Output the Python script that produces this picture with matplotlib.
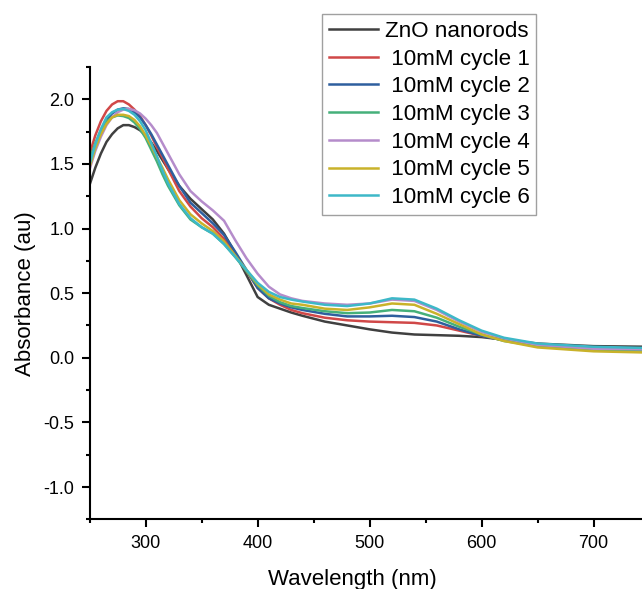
import matplotlib
matplotlib.use("Agg")
import matplotlib.pyplot as plt
from matplotlib.ticker import MultipleLocator

plt.rcParams['font.family'] = ['Liberation Sans', 'DejaVu Sans']
plt.rcParams['axes.unicode_minus'] = False

# wavelength grid (nm): fine near the band edge, coarser in the visible
wavelength = [250, 255, 260, 265, 270, 275, 280, 285, 290, 295, 300, 305, 310, 315, 320,
              330, 340, 350, 360, 370, 380, 390, 400, 410, 420, 430, 440,
              460, 480, 500, 520, 540, 560, 580, 600, 620, 650, 700, 750]

zno = [1.34, 1.47, 1.58, 1.67, 1.73, 1.775, 1.80, 1.80, 1.785, 1.76, 1.72, 1.665, 1.60, 1.53, 1.46,
       1.33, 1.23, 1.15, 1.07, 0.96, 0.81, 0.64, 0.47, 0.41, 0.38, 0.35, 0.325,
       0.28, 0.25, 0.22, 0.195, 0.18, 0.175, 0.17, 0.16, 0.14, 0.11, 0.09, 0.085]
cycle1 = [1.58, 1.72, 1.83, 1.91, 1.96, 1.985, 1.985, 1.96, 1.92, 1.87, 1.80, 1.72, 1.63, 1.55, 1.46,
          1.29, 1.17, 1.08, 1.01, 0.92, 0.80, 0.67, 0.54, 0.46, 0.41, 0.37, 0.345,
          0.31, 0.29, 0.28, 0.275, 0.27, 0.25, 0.21, 0.17, 0.14, 0.10, 0.07, 0.065]
cycle2 = [1.50, 1.64, 1.75, 1.84, 1.89, 1.92, 1.93, 1.925, 1.90, 1.86, 1.80, 1.73, 1.65, 1.57, 1.49,
          1.33, 1.20, 1.12, 1.04, 0.95, 0.82, 0.68, 0.54, 0.46, 0.42, 0.39, 0.37,
          0.34, 0.32, 0.32, 0.325, 0.315, 0.28, 0.22, 0.17, 0.135, 0.10, 0.07, 0.07]
cycle3 = [1.53, 1.66, 1.76, 1.83, 1.86, 1.875, 1.87, 1.855, 1.82, 1.77, 1.70, 1.61, 1.52, 1.42, 1.33,
          1.18, 1.07, 1.01, 0.96, 0.88, 0.78, 0.67, 0.56, 0.48, 0.43, 0.40, 0.385,
          0.36, 0.345, 0.35, 0.37, 0.36, 0.31, 0.24, 0.18, 0.13, 0.09, 0.06, 0.055]
cycle4 = [1.46, 1.60, 1.71, 1.80, 1.86, 1.90, 1.92, 1.925, 1.915, 1.89, 1.85, 1.80, 1.74, 1.66, 1.58,
          1.42, 1.29, 1.21, 1.14, 1.06, 0.91, 0.77, 0.65, 0.55, 0.49, 0.46, 0.44,
          0.42, 0.41, 0.42, 0.45, 0.44, 0.37, 0.28, 0.20, 0.15, 0.10, 0.07, 0.065]
cycle5 = [1.48, 1.62, 1.73, 1.81, 1.86, 1.88, 1.88, 1.87, 1.84, 1.79, 1.72, 1.64, 1.55, 1.47, 1.38,
          1.22, 1.11, 1.04, 0.98, 0.90, 0.79, 0.68, 0.57, 0.49, 0.45, 0.42, 0.41,
          0.38, 0.37, 0.39, 0.42, 0.41, 0.34, 0.26, 0.18, 0.13, 0.08, 0.05, 0.04]
cycle6 = [1.50, 1.65, 1.77, 1.86, 1.90, 1.92, 1.925, 1.91, 1.88, 1.83, 1.76, 1.66, 1.56, 1.45, 1.35,
          1.19, 1.08, 1.01, 0.96, 0.88, 0.78, 0.68, 0.58, 0.51, 0.47, 0.45, 0.435,
          0.41, 0.40, 0.42, 0.46, 0.45, 0.38, 0.29, 0.21, 0.155, 0.11, 0.085, 0.075]

series = [
    ("ZnO nanorods", zno, "#404040"),
    (" 10mM cycle 1", cycle1, "#d04848"),
    (" 10mM cycle 2", cycle2, "#2e5f9e"),
    (" 10mM cycle 3", cycle3, "#45b07a"),
    (" 10mM cycle 4", cycle4, "#b58ccb"),
    (" 10mM cycle 5", cycle5, "#c9b22a"),
    (" 10mM cycle 6", cycle6, "#3db8c8"),
]

fig = plt.figure(figsize=(6.42, 5.89), dpi=100)
ax = fig.add_axes([0.1397, 0.1183, 0.872, 0.768])

for label, values, color in series:
    ax.plot(wavelength, values, color=color, lw=1.8, label=label)

ax.set_xlim(250, 750)
ax.set_ylim(-1.25, 2.25)
ax.xaxis.set_minor_locator(MultipleLocator(50))
ax.yaxis.set_minor_locator(MultipleLocator(0.25))
ax.set_xticks([300, 400, 500, 600, 700])
ax.set_yticks([-1.0, -0.5, 0.0, 0.5, 1.0, 1.5, 2.0])

for side in ["top", "right"]:
    ax.spines[side].set_visible(False)
for side in ["left", "bottom"]:
    ax.spines[side].set_linewidth(1.5)

ax.tick_params(which="major", direction="out", length=6, width=1.5, labelsize=13, pad=5)
ax.tick_params(which="minor", direction="out", length=3, width=1.5)

ax.set_xlabel("Wavelength (nm)", fontsize=16)
ax.set_ylabel("Absorbance (au)", fontsize=16)
ax.xaxis.set_label_coords(0.47, -0.11)
ax.yaxis.set_label_coords(-0.096, 0.5)

leg = fig.legend(loc="upper left", bbox_to_anchor=(0.5016, 0.976), fontsize=16.1,
                 frameon=True, fancybox=False, edgecolor="#888888", handlelength=2.2,
                 handletextpad=0.3, borderpad=0.3, labelspacing=0.3, borderaxespad=0)
leg.get_frame().set_linewidth(1.0)

fig.savefig("out.png", dpi=100)
